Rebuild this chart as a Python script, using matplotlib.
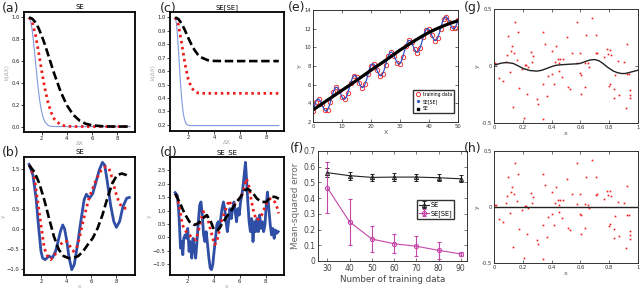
import matplotlib
matplotlib.use("Agg")
import matplotlib.pyplot as plt
from matplotlib.lines import Line2D

# ---------------- data ----------------
# (a) SE kernel
a_x = [1, 1.25, 1.5, 1.75, 2, 2.25, 2.5, 2.75, 3, 3.5, 4, 4.5, 5, 5.5, 6, 7, 8, 9]
a_blue_x = [1, 1.125, 1.25, 1.375, 1.5, 1.625, 1.75, 1.875, 2, 2.125, 2.25, 2.5, 2.75, 3, 4, 5, 6, 7, 8, 9]
a_blue = [1, .969, .882, .755, .607, .458, .325, .216, .135, .080, .044, .011, .002, 0, 0, 0, 0, 0, 0, 0]
a_red = [1, .959, .846, .687, .513, .353, .223, .130, .069, .015, .003, 0, 0, 0, 0, 0, 0, 0]
a_black = [1, .989, .956, .903, .834, .753, .664, .573, .483, .321, .195, .108, .055, .025, .011, .001, 0, 0]

# (c) SE[SE] kernel
c_blue_x = [1, 1.1, 1.2, 1.3, 1.4, 1.5, 1.6, 1.7, 1.8, 1.9, 2.0, 2.2, 3, 4, 5, 6, 7, 8, 9]
c_blue = [1, .956, .840, .684, .526, .396, .304, .248, .218, .204, .198, .195, .195, .195, .195, .195, .195, .195, .195]
c_red_x = [1, 1.25, 1.5, 1.75, 2, 2.25, 2.5, 2.75, 3, 4, 5, 6, 7, 8, 9]
c_red = [1, .945, .809, .658, .543, .478, .449, .438, .435, .435, .435, .435, .435, .435, .435]
c_black_x = [1, 1.25, 1.5, 1.75, 2, 2.25, 2.5, 2.75, 3, 3.5, 4, 5, 6, 7, 8, 9]
c_black = [1, .988, .954, .905, .850, .799, .756, .724, .703, .682, .676, .675, .675, .675, .675, .675]

# (b) SE samples
b_blue_x = [1.05, 1.36, 1.61, 1.82, 2.0, 2.13, 2.33, 2.64, 2.9, 3.16, 3.36, 3.55, 3.73, 3.88, 4.06, 4.24,
            4.45, 4.65, 4.91, 5.17, 5.43, 5.61, 5.86, 6.12, 6.38, 6.64, 6.89, 7.07, 7.28, 7.54, 7.79, 8.0,
            8.26, 8.52, 8.82, 9.03]
b_blue = [1.62, 1.35, 0.77, 0.02, -0.56, -0.73, -0.77, -0.68, -0.73, -0.56, -0.31, -0.06, 0.10, 0.0, -0.31,
          -0.73, -1.02, -0.89, -0.39, 0.19, 0.73, 0.87, 0.77, 0.89, 1.18, 1.48, 1.67, 1.60, 1.18, 0.60, 0.19,
          0.04, 0.19, 0.56, 0.77, 0.79]
b_red_x = [1.1, 1.48, 1.74, 2.0, 2.26, 2.52, 2.77, 3.03, 3.29, 3.55, 3.8, 4.06, 4.32, 4.58, 4.83, 5.09, 5.35,
           5.61, 5.86, 6.12, 6.38, 6.64, 6.89, 7.15, 7.41, 7.67, 7.92, 8.18, 8.44, 8.7, 8.95]
b_red = [1.60, 1.27, 0.69, 0.10, -0.48, -0.68, -0.77, -0.68, -0.56, -0.39, -0.31, -0.31, -0.44, -0.56, -0.48,
         -0.19, 0.19, 0.52, 0.81, 1.02, 1.23, 1.39, 1.52, 1.56, 1.52, 1.27, 0.94, 0.69, 0.54, 0.52, 0.52]
b_black_x = [1.05, 1.48, 1.87, 2.26, 2.64, 3.03, 3.42, 3.8, 4.19, 4.58, 4.96, 5.35, 5.73, 6.12, 6.51, 6.89,
             7.28, 7.67, 8.05, 8.44, 8.82, 9.08]
b_black = [1.60, 1.43, 1.14, 0.73, 0.27, -0.19, -0.52, -0.68, -0.73, -0.73, -0.68, -0.56, -0.39, -0.23, 0.02,
           0.35, 0.77, 1.14, 1.35, 1.39, 1.35, 1.31]

# (d) SE_SE samples
d_blue_x = [1.03, 1.19, 1.29, 1.36, 1.44, 1.54, 1.62, 1.69, 1.8, 1.9, 2.0, 2.1, 2.2, 2.31, 2.41, 2.51, 2.61,
            2.71, 2.81, 2.92, 3.02, 3.12, 3.22, 3.32, 3.42, 3.53, 3.63, 3.73, 3.83, 3.93, 4.03, 4.14, 4.24,
            4.34, 4.44, 4.54, 4.64, 4.75, 4.85, 4.95, 5.05, 5.15, 5.25, 5.36, 5.46, 5.56, 5.66, 5.76, 5.86,
            5.97, 6.07, 6.17, 6.27, 6.37, 6.45, 6.53, 6.63, 6.73, 6.83, 6.93, 7.03, 7.14, 7.24, 7.34, 7.44,
            7.54, 7.64, 7.75, 7.85, 7.95, 8.05, 8.15, 8.25, 8.36, 8.46, 8.56, 8.66, 8.76, 8.86, 8.97]
d_blue = [1.67, 1.57, 1.07, 0.46, -0.41, -0.16, -0.65, -0.04, 0.09, -0.04, 0.33, -0.53, -0.16, -0.78, -0.04,
          -0.41, -0.78, -0.16, 0.58, 1.20, 1.32, 0.83, 0.09, -0.16, 0.21, -0.28, -0.78, -1.15, -1.21, -1.02,
          -0.53, -0.04, 0.46, 0.58, 0.33, 0.70, 1.07, 1.32, 1.07, 0.58, 0.21, 0.58, 1.07, 0.70, 1.07, 1.32,
          0.95, 0.58, 1.07, 0.83, 1.32, 1.57, 1.94, 2.43, 2.80, 2.19, 1.32, 0.58, 0.21, 0.70, -0.16, 0.58,
          0.21, 0.70, 0.21, 0.83, 0.33, 0.58, 0.21, 0.46, 1.20, 1.69, 1.07, 0.46, 0.09, 0.33, -0.04, 0.27,
          0.15, 0.21]
d_red_x = [1.11, 1.29, 1.44, 1.54, 1.69, 1.87, 2.13, 2.38, 2.64, 2.81, 3.02, 3.17, 3.32, 3.53, 3.73, 3.93,
           4.08, 4.24, 4.42, 4.59, 4.8, 5.0, 5.18, 5.36, 5.56, 5.76, 5.97, 6.17, 6.32, 6.53, 6.7, 6.88, 7.08,
           7.29, 7.49, 7.7, 7.9, 8.1, 8.31, 8.51, 8.71, 8.92, 9.0]
d_red = [1.57, 1.26, 0.89, 0.58, 0.33, 0.21, 0.09, -0.04, -0.10, 0.21, 0.64, 0.95, 0.95, 0.70, 0.33, -0.04,
         -0.28, -0.16, 0.21, 0.58, 0.89, 1.14, 1.38, 1.20, 1.20, 1.32, 1.44, 1.57, 1.81, 2.19, 1.94, 1.44, 0.95,
         0.64, 0.70, 0.83, 1.07, 1.32, 1.44, 1.44, 1.32, 1.07, 0.89]
d_black_x = [1.03, 1.36, 1.75, 2.13, 2.51, 2.81, 3.14, 3.47, 3.78, 4.03, 4.34, 4.67, 5.0, 5.36, 5.69, 6.07,
             6.37, 6.63, 6.96, 7.34, 7.72, 8.05, 8.41, 8.74, 9.02]
d_black = [1.63, 1.32, 0.89, 0.58, 0.46, 0.52, 0.70, 0.83, 0.58, 0.27, 0.27, 0.52, 0.77, 1.01, 1.26, 1.51,
           1.75, 1.81, 1.69, 1.44, 1.32, 1.32, 1.51, 1.51, 1.44]

# (e) regression on trend + periodic data
e_x = [i * 0.5 for i in range(101)]
e_fit = [3.20, 3.76, 4.20, 4.45, 4.46, 4.27, 3.93, 3.57, 3.28, 3.17, 3.29, 3.63, 4.14, 4.70, 5.22, 5.59, 5.74,
         5.66, 5.39, 5.03, 4.68, 4.46, 4.45, 4.67, 5.09, 5.64, 6.20, 6.66, 6.94, 6.99, 6.82, 6.50, 6.13, 5.82,
         5.69, 5.77, 6.09, 6.58, 7.14, 7.68, 8.07, 8.25, 8.20, 7.95, 7.59, 7.24, 7.00, 6.95, 7.14, 7.54, 8.08,
         8.64, 9.13, 9.43, 9.51, 9.36, 9.06, 8.69, 8.37, 8.21, 8.26, 8.55, 9.02, 9.58, 10.12, 10.54, 10.75,
         10.73, 10.50, 10.15, 9.79, 9.53, 9.46, 9.61, 9.99, 10.51, 11.08, 11.58, 11.92, 12.03, 11.91, 11.62,
         11.25, 10.92, 10.73, 10.75, 11.01, 11.46, 12.02, 12.57, 13.01, 13.25, 13.26, 13.05, 12.72, 12.35,
         12.07, 11.97, 12.09, 12.44, 12.95]
e_train_x = list(range(51))
e_train_y = [3.22, 4.18, 4.48, 3.95, 3.30, 3.27, 4.12, 5.20, 5.76, 5.37, 4.70, 4.43, 5.07, 6.22, 6.92, 6.84,
             6.15, 5.67, 6.07, 7.12, 8.05, 8.22, 7.61, 6.98, 7.12, 8.06, 9.11, 9.52, 9.08, 8.36, 8.24, 9.00,
             10.10, 10.77, 10.52, 9.80, 9.44, 9.97, 11.06, 11.90, 11.93, 11.27, 10.71, 10.99, 12.00, 13.00,
             13.28, 12.74, 12.05, 12.08, 12.93]
e_se_x = [0, 2.5, 5, 7.5, 10, 12.5, 15, 17.5, 20, 22.5, 25, 27.5, 30, 32.5, 35, 37.5, 40, 42.5, 45, 47.5, 50]
e_se = [3.3, 3.82, 4.35, 4.87, 5.4, 5.92, 6.45, 7.0, 7.55, 8.07, 8.6, 9.15, 9.7, 10.2, 10.7, 11.17, 11.6,
        11.97, 12.3, 12.6, 12.85]

# (f) error vs training size
f_n = [30, 40, 50, 60, 70, 80, 90]
f_se = [0.562, 0.543, 0.532, 0.534, 0.534, 0.530, 0.523]
f_se_err = [0.028, 0.025, 0.022, 0.024, 0.022, 0.022, 0.022]
f_sese = [0.466, 0.249, 0.140, 0.110, 0.094, 0.068, 0.045]
f_sese_err = [0.162, 0.148, 0.080, 0.062, 0.063, 0.055, 0.010]

# (g)/(h) residual scatter
g_x = [0.007, 0.014, 0.035, 0.06, 0.083, 0.088, 0.099, 0.11, 0.115, 0.122, 0.141, 0.145, 0.134, 0.157,
       0.169, 0.176, 0.192, 0.21, 0.217, 0.222, 0.226, 0.233, 0.254, 0.266, 0.273, 0.30, 0.307, 0.337, 0.342,
       0.342, 0.353, 0.365, 0.376, 0.40, 0.404, 0.416, 0.423, 0.434, 0.441, 0.448, 0.453, 0.457, 0.469,
       0.476, 0.508, 0.515, 0.527, 0.543, 0.577, 0.573, 0.596, 0.60, 0.603, 0.607, 0.63, 0.635, 0.637,
       0.654, 0.661, 0.681, 0.711, 0.711, 0.718, 0.764, 0.788, 0.792, 0.799, 0.804, 0.804, 0.815, 0.831,
       0.836, 0.838, 0.861, 0.868, 0.903, 0.919, 0.926, 0.926, 0.935, 0.942, 0.942, 0.947]
g_y = [0.022, 0.015, -0.104, -0.134, 0.037, 0.095, 0.265, -0.051, 0.130, 0.175, 0.116, 0.389, -0.359, 0.051,
       0.295, -0.194, -0.028, -0.453, 0.013, 0.005, -0.242, -0.007, 0.125, 0.037, 0.087, -0.292, -0.33, -0.16,
       0.295, -0.462, 0.192, -0.266, -0.09, -0.066, 0.130, -0.16, 0.037, 0.177, 0.06, 0.022, -0.045, 0.06,
       -0.095, 0.063, 0.251, -0.186, -0.204, 0.116, 0.389, 0.028, 0.116, -0.06, -0.242, -0.075, 0.028,
       -0.186, 0.271, 0.022, -0.013, 0.418, 0.110, 0.271, 0.116, 0.075, 0.145, 0.104, -0.172, 0.139, -0.154,
       0.098, -0.198, -0.28, -0.081, 0.043, -0.257, 0.033, -0.368, 0.189, -0.072, -0.072, -0.282, -0.25,
       -0.213]
g_fit_x = [0, 0.05, 0.088, 0.134, 0.17, 0.203, 0.25, 0.296, 0.33, 0.365, 0.40, 0.434, 0.48, 0.527, 0.56,
           0.596, 0.62, 0.642, 0.67, 0.70, 0.73, 0.757, 0.79, 0.827, 0.855, 0.885, 0.91, 0.931, 0.96, 1.0]
g_fit = [0.007, 0.025, 0.031, 0.022, 0.0, -0.022, -0.040, -0.045, -0.038, -0.022, -0.005, 0.007, 0.012,
         0.016, 0.018, 0.022, 0.032, 0.043, 0.053, 0.057, 0.045, 0.022, -0.012, -0.043, -0.058, -0.066,
         -0.066, -0.06, -0.05, -0.037]
h_fit_x = [0, 1]
h_fit = [0, 0]

# ---------------- styling ----------------
plt.rcParams['font.family'] = ['DejaVu Sans']
fig = plt.figure(figsize=(6.4, 2.88), dpi=100)
W, H = 640.0, 288.0


def add_ax(l, r, t, b):
    return fig.add_axes([l / W, 1 - b / H, (r - l) / W, (b - t) / H])


BLUE_L = '#8199dc'
BLUE_D = '#2f4ea6'
RED = '#ee1c1c'
LAB = '#aaaaaa'


def style_py(ax, title, xl, yl):
    for s in ax.spines.values():
        s.set_linewidth(1.3)
        s.set_color('black')
    ax.tick_params(labelsize=3.8, length=2, width=0.6, pad=1.2, colors='#222222')
    ax.set_title(title, fontsize=5, pad=2)
    ax.set_xlabel(xl, fontsize=4.2, color=LAB, labelpad=0)
    ax.set_ylabel(yl, fontsize=4.2, color=LAB, labelpad=1)
    ax.set_xticks([2, 4, 6, 8])


def style_ml(ax):
    for s in ax.spines.values():
        s.set_linewidth(0.7)
        s.set_color('#333333')
    ax.tick_params(direction='in', top=True, right=True, length=2, width=0.5,
                   labelsize=3.8, pad=1.5, colors='#333333')


DASH = (0, (3.2, 1.4))
DOT = (0, (0.9, 1.3))

# (a)
ax = add_ax(24, 135, 12, 132)
ax.plot(a_blue_x, a_blue, color=BLUE_L, lw=0.8)
ax.plot(a_x, a_red, color=RED, lw=2.0, linestyle=DOT)
ax.plot(a_x, a_black, color='black', lw=1.9, linestyle=DASH)
style_py(ax, 'SE', 'ΔX', 'k(ΔX)')
ax.set_yticks([0, 0.2, 0.4, 0.6, 0.8, 1.0])

# (c)
ax = add_ax(170, 284, 12, 131)
ax.plot(c_blue_x, c_blue, color=BLUE_L, lw=0.8)
ax.plot(c_red_x, c_red, color=RED, lw=2.0, linestyle=DOT)
ax.plot(c_black_x, c_black, color='black', lw=1.9, linestyle=DASH)
style_py(ax, 'SE[SE]', 'ΔX', 'k(ΔX)')
ax.set_yticks([0.2, 0.3, 0.4, 0.5, 0.6, 0.7, 0.8, 0.9, 1.0])

# (b)
ax = add_ax(24, 135, 157, 275)
ax.plot(b_blue_x, b_blue, color=BLUE_D, lw=2.0)
ax.plot(b_red_x, b_red, color=RED, lw=2.0, linestyle=DOT)
ax.plot(b_black_x, b_black, color='black', lw=1.9, linestyle=DASH)
style_py(ax, 'SE', 'x', 'y')
ax.set_yticks([-1.0, -0.5, 0.0, 0.5, 1.0, 1.5])

# (d)
ax = add_ax(170, 284, 157, 275)
ax.plot(d_blue_x, d_blue, color=BLUE_D, lw=2.0)
ax.plot(d_red_x, d_red, color=RED, lw=2.0, linestyle=DOT)
ax.plot(d_black_x, d_black, color='black', lw=1.9, linestyle=DASH)
style_py(ax, 'SE_SE', 'x', 'y')
ax.set_yticks([-1.0, -0.5, 0.0, 0.5, 1.0, 1.5, 2.0, 2.5])

# (e)
ax = add_ax(313, 458, 10, 122)
ax.plot(e_train_x, e_train_y, 'o', mfc='none', mec=RED, ms=3.2, mew=0.6)
ax.plot(e_x, e_fit, color='#3050c8', lw=0.9)
ax.plot(e_se_x, e_se, color='black', lw=2.3)
ax.set_xlim(0, 50)
ax.set_ylim(2, 14)
ax.set_xticks([0, 10, 20, 30, 40, 50])
ax.set_yticks([2, 4, 6, 8, 10, 12, 14])
style_ml(ax)
ax.set_xlabel('X', fontsize=4.5, color='#555555', labelpad=1)
ax.set_ylabel('Y', fontsize=4.5, color='#555555', labelpad=1)
handles = [Line2D([], [], marker='o', ls='none', mfc='none', mec=RED, ms=3, mew=0.6),
           Line2D([], [], marker='.', ls='none', color='#3050c8', ms=2.5),
           Line2D([], [], marker='s', ls='none', color='black', ms=1.8)]
ax.legend(handles, ['training data', 'SE[SE]', 'SE'], fontsize=3.3, loc='lower right',
          bbox_to_anchor=(0.985, 0.06), frameon=True, fancybox=False, edgecolor='#333333',
          framealpha=1, handlelength=1.2, handletextpad=0.4, borderpad=0.4, labelspacing=0.5)

# (f)
ax = add_ax(318, 467, 151, 261)
MAG = '#c547a8'
ax.errorbar(f_n, f_se, yerr=f_se_err, color='#222222', lw=0.8, marker='^', ms=3, mfc='none',
            mew=0.7, elinewidth=0.8, capsize=1.2, label='SE')
ax.errorbar(f_n, f_sese, yerr=f_sese_err, color=MAG, lw=0.8, marker='o', ms=3, mfc='none',
            mew=0.8, elinewidth=0.8, capsize=1.2, label='SE[SE]')
ax.set_xlim(25.8, 92.8)
ax.set_ylim(0, 0.7)
ax.set_xticks(f_n)
ax.set_yticks([0, 0.1, 0.2, 0.3, 0.4, 0.5, 0.6, 0.7])
ax.set_yticklabels(['0', '0.1', '0.2', '0.3', '0.4', '0.5', '0.6', '0.7'])
style_ml(ax)
ax.tick_params(labelsize=5.5, colors='#444444', pad=2)
ax.set_xlabel('Number of training data', fontsize=6.3, color='#444444', labelpad=1.5)
ax.set_ylabel('Mean-squared error', fontsize=6.3, color='#666666', labelpad=2)
ax.legend(fontsize=4.8, loc='center left', bbox_to_anchor=(0.64, 0.47), frameon=True, fancybox=False,
          edgecolor='#333333', framealpha=1, handlelength=1.6, handletextpad=0.2, borderpad=0.3,
          labelspacing=0.3)

# (g), (h)
for (t, b), fx, fy in [((9, 123), g_fit_x, g_fit), ((151, 263), h_fit_x, h_fit)]:
    ax = add_ax(494, 638, t, b)
    ax.plot(g_x, g_y, 's', color=RED, ms=1.2, mew=0)
    ax.plot(fx, fy, color='#222222', lw=1.0)
    ax.set_xlim(0, 1)
    ax.set_ylim(-0.5, 0.5)
    ax.set_xticks([0, 0.2, 0.4, 0.6, 0.8, 1])
    ax.set_xticklabels(['0', '0.2', '0.4', '0.6', '0.8', '1'])
    ax.set_yticks([-0.5, 0, 0.5])
    ax.set_yticklabels(['-0.5', '0', '0.5'])
    style_ml(ax)
    ax.set_xlabel('x', fontsize=4.5, color='#555555', labelpad=1)
    ax.set_ylabel('y', fontsize=4.5, color='#555555', labelpad=1)

# panel labels
for lab, x, y in [('(a)', 2, 2), ('(b)', 2, 146), ('(c)', 160, 2), ('(d)', 160, 146),
                  ('(e)', 288, 1), ('(f)', 290, 142), ('(g)', 464, 1), ('(h)', 464, 142)]:
    fig.text(x / W, 1 - y / H, lab, fontsize=9, ha='left', va='top', color='#222222')

fig.savefig('out.png', dpi=100)
